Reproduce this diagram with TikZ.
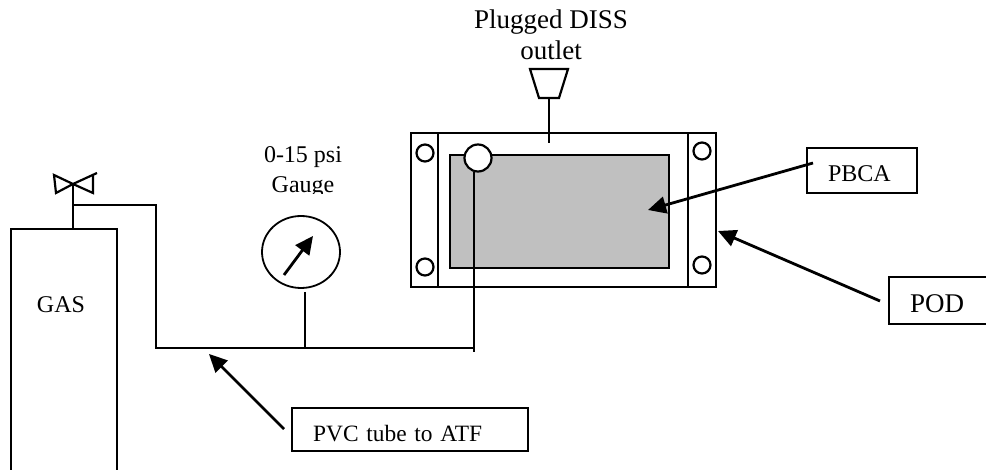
\documentclass[tikz,border=0pt]{standalone}
\usepackage{fontspec}
\setmainfont{Liberation Serif}
\usetikzlibrary{shapes.geometric, arrows.meta}
\definecolor{boardgray}{RGB}{192, 192, 192}
\begin{document}
\begin{tikzpicture}[
    x=0.5pt, y=-0.5pt,
    line width=1.1pt,
    callout/.style={rectangle, draw, anchor=north west, inner xsep=10.5pt, inner ysep=0pt, align=left, font=\fontsize{12}{14}\selectfont},
    bolt/.style={circle, draw, fill=white, inner sep=0pt, minimum size=8.5pt},
    lbl/.style={anchor=base, inner sep=0pt, font=\fontsize{12}{14}\selectfont},
    biglbl/.style={anchor=base, inner sep=0pt, font=\fontsize{13.5}{16}\selectfont},
    pointer/.style={line width=1.4pt, -{Triangle[length=9pt, width=8.5pt]}}
]
    \useasboundingbox (0,0) rectangle (986,470);

    % POD and PBCA
    \node[rectangle, draw, minimum width=152.5pt, minimum height=77pt, inner sep=0pt] (pod) at (563.5,210) {};
    \node[rectangle, draw, fill=boardgray, minimum width=109.5pt, minimum height=56.5pt, inner sep=0pt] (board) at (559.5,211.5) {};
    \draw (438,133) -- (438,287);
    \draw (688,133) -- (688,287);
    \node[bolt] (boltnw) at (425,153) {};
    \node[bolt] (boltsw) at (425,267) {};
    \node[bolt] (boltne) at (702,151) {};
    \node[bolt] (boltse) at (702,265) {};
    \node[circle, draw, fill=white, inner sep=0pt, minimum size=13.5pt] (port) at (478,158) {};

    % Plugged outlet
    \draw (530,69) -- (568,69) -- (559,98) -- (539,98) -- cycle;
    \coordinate (plugend) at (549,98);
    \coordinate (podstub) at (549,143);
    \draw (plugend) -- (podstub);
    \node[biglbl] (plugtext) at (551,29) {Plugged DISS};
    \node[biglbl] (outlettext) at (551,60) {outlet};

    % Gas cylinder
    \draw (11,470) -- (11,229) -- (117,229) -- (117,470);
    \coordinate (cyltop) at (73,229);
    \coordinate (valve) at (73,184);
    \draw (valve) -- (54,175) -- (56,193) -- (valve) -- (97,173);
    \draw (93,175) -- (93,193) -- (valve);
    \draw (valve) -- (cyltop);
    \node[lbl] (gastext) at (61,313) {GAS};

    % Tube
    \coordinate (tee) at (73,205);
    \coordinate (tubeend) at (474,348);
    \coordinate (gaugetee) at (305,348);
    \coordinate (portdrop) at (474,172);
    \draw (tee) -- (156,205) -- (156,348) -- (tubeend);
    \draw (portdrop) -- (474,352);

    % Gauge
    \node[ellipse, draw, line width=0.9pt, minimum width=39pt, minimum height=36pt, inner sep=0pt] (gauge) at (301,252) {};
    \coordinate (needle) at (284,275);
    \draw[pointer] (needle) -- (313,236);
    \draw[line width=0.8pt] (305,292) -- (gaugetee);
    \node[lbl] (rangetext) at (303,163) {0-15 psi};
    \node[lbl] (gaugetext) at (303,193) {Gauge};
    \fill[white] (270,194) rectangle (336,203);

    % Callouts
    \node[callout, text width=34pt, text height=16.5pt, text depth=6pt] (pbca) at (806,147) {PBCA};
    \node[callout, font=\fontsize{13.5}{16}\selectfont, text width=40pt, text height=17.5pt, text depth=6pt] (podbox) at (888,276) {POD};
    \node[callout, font=\fontsize{11.7}{14}\selectfont, text width=97pt, text height=16.5pt, text depth=5pt] (pvc) at (291,407) {PVC tube to ATF};

    \coordinate (pbcatail) at (813,163);
    \coordinate (podtail) at (880,301);
    \coordinate (pvctail) at (284,429);
    \draw[pointer] (pbcatail) -- (648,210);
    \draw[pointer] (podtail) -- (718,231);
    \draw[pointer] (pvctail) -- (209,354);
\end{tikzpicture}
\end{document}
